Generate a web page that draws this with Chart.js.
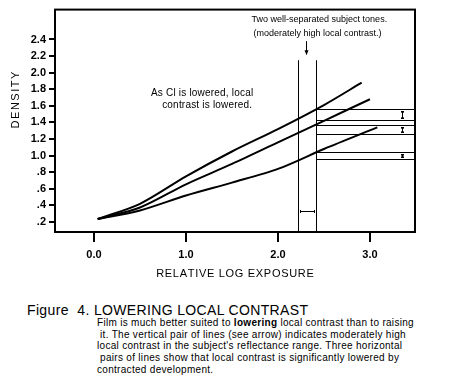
<!DOCTYPE html>
<html><head><meta charset="utf-8">
<script src="https://cdn.jsdelivr.net/npm/chart.js@4.4.0/dist/chart.umd.min.js"></script>
<style>
html,body{margin:0;padding:0;background:#fff;}
#wrap{position:relative;width:460px;height:390px;overflow:hidden;background:#fff;}
canvas{display:block;}
#fig{position:absolute;left:27px;top:302px;font:14px/16px "Liberation Sans",Arial,sans-serif;letter-spacing:0.35px;color:#000;white-space:nowrap;}
#cap{position:absolute;left:97px;top:317px;font:10px/11.7px "Liberation Sans",Arial,sans-serif;letter-spacing:0.3px;color:#000;white-space:nowrap;}
</style></head><body>
<div id="wrap">
<canvas id="c" width="460" height="290" style="width:460px;height:290px"></canvas>
<div id="fig">Figure&nbsp;&nbsp;4.&nbsp;LOWERING LOCAL CONTRAST</div>
<div id="cap">Film is much better suited to <b>lowering</b> local contrast than to raising<br>&nbsp;it. The vertical pair of lines (see arrow) indicates moderately high<br>local contrast in the subject's reflectance range. Three horizontal<br>&nbsp;pairs of lines show that local contrast is significantly lowered by<br>contracted development.</div>
</div>
<script>
// ---- data ----
const xTicks = [0, 1, 2, 3];
const xTickLabels = ['0.0', '1.0', '2.0', '3.0'];
const yTicks = [0.2, 0.4, 0.6, 0.8, 1.0, 1.2, 1.4, 1.6, 1.8, 2.0, 2.2, 2.4];
const yTickLabels = ['.2', '.4', '.6', '.8', '1.0', '1.2', '1.4', '1.6', '1.8', '2.0', '2.2', '2.4'];

const highX = [0.04, 0.5, 1.0, 1.5, 2.0, 2.5, 2.91];
const highY = [0.236, 0.42, 0.75, 1.05, 1.32, 1.61, 1.88];
const midX  = [0.04, 0.5, 1.0, 1.5, 2.0, 2.5, 3.0];
const midY  = [0.236, 0.375, 0.655, 0.90, 1.16, 1.42, 1.68];
const lowX  = [0.04, 0.5, 1.0, 1.5, 2.0, 2.5, 3.08];
const lowY  = [0.236, 0.34, 0.52, 0.675, 0.84, 1.08, 1.34];

const toneX = [2.22, 2.41];           // vertical pair of lines
const toneTop = 2.15;
const densityLevels = [1.562, 1.43, 1.37, 1.262, 1.05, 0.954]; // horizontal pairs
const pairArrowX = 3.345;

const xMin = -0.424, xMax = 3.49, yMin = 0.08, yMax = 2.76;
const FONT = '"Liberation Sans", Arial, Helvetica, sans-serif';

function pts(xs, ys){ return xs.map((x,i)=>({x, y: ys[i]})); }
function curve(xs, ys){
  return {data: pts(xs, ys), showLine: true, borderColor: '#000', borderWidth: 2,
    pointRadius: 0, fill: false, tension: 0.3};
}

function arrowHead(ctx, x, y, dx, dy, len, hw){
  const bx = x - dx*len, by = y - dy*len;
  ctx.beginPath();
  ctx.moveTo(x, y);
  ctx.lineTo(bx - dy*hw, by + dx*hw);
  ctx.lineTo(bx + dy*hw, by - dx*hw);
  ctx.closePath();
  ctx.fill();
}

// draws text centered on (0,0) along the current x direction with extra spacing
function spacedText(ctx, str, spacing){
  const widths = [...str].map(ch => ctx.measureText(ch).width);
  const total = widths.reduce((a,b)=>a+b,0) + spacing*(str.length-1);
  let x = -total/2;
  ctx.textAlign = 'left';
  [...str].forEach((ch,i) => { ctx.fillText(ch, x, 0); x += widths[i] + spacing; });
}

const decor = {
  id: 'decor',
  afterDatasetsDraw(chart){
    const ctx = chart.ctx, ca = chart.chartArea;
    const xs = chart.scales.x, ys = chart.scales.y;
    const X = v => xs.getPixelForValue(v), Y = v => ys.getPixelForValue(v);
    ctx.save();
    ctx.strokeStyle = '#000'; ctx.fillStyle = '#000';
    // frame
    ctx.lineWidth = 2;
    ctx.strokeRect(ca.left, ca.top, ca.right - ca.left, ca.bottom - ca.top);
    // vertical pair
    ctx.lineWidth = 1;
    toneX.forEach(v => {
      const px = Math.round(X(v)) + 0.5;
      ctx.beginPath(); ctx.moveTo(px, Y(toneTop)); ctx.lineTo(px, ca.bottom); ctx.stroke();
    });
    // horizontal pairs
    const hx0 = Math.round(X(toneX[1])) + 0.5;
    densityLevels.forEach(v => {
      const py = Math.round(Y(v)) + 0.5;
      ctx.beginPath(); ctx.moveTo(hx0, py); ctx.lineTo(ca.right, py); ctx.stroke();
    });
    // double arrows between horizontal pairs
    const ax = Math.round(X(pairArrowX)) + 0.5;
    for (let i = 0; i < densityLevels.length; i += 2) {
      const y1 = Math.round(Y(densityLevels[i])) + 2;
      const y2 = Math.round(Y(densityLevels[i+1])) - 1;
      ctx.beginPath(); ctx.moveTo(ax, y1 + 1); ctx.lineTo(ax, y2 - 1); ctx.stroke();
      ctx.beginPath(); ctx.moveTo(ax - 1.5, y1 + 0.5); ctx.lineTo(ax + 1.5, y1 + 0.5); ctx.stroke();
      ctx.beginPath(); ctx.moveTo(ax - 1.5, y2 - 0.5); ctx.lineTo(ax + 1.5, y2 - 0.5); ctx.stroke();
      arrowHead(ctx, ax, y1, 0, -1, 2, 1.5);
      arrowHead(ctx, ax, y2, 0, 1, 2, 1.5);
    }
    // horizontal double arrow between vertical lines
    const hy = Math.round(Y(0.335)) + 0.5;
    const hxa = Math.round(X(toneX[0])) + 2.5, hxb = Math.round(X(toneX[1])) - 1.5;
    ctx.beginPath(); ctx.moveTo(hxa, hy); ctx.lineTo(hxb, hy); ctx.stroke();
    ctx.beginPath(); ctx.moveTo(hxa, hy - 1.5); ctx.lineTo(hxa, hy + 1.5); ctx.stroke();
    ctx.beginPath(); ctx.moveTo(hxb, hy - 1.5); ctx.lineTo(hxb, hy + 1.5); ctx.stroke();
    // down arrow
    const dx = Math.round(X(2.30)) + 0.5;
    ctx.beginPath(); ctx.moveTo(dx, Y(2.38)); ctx.lineTo(dx, Y(2.25)); ctx.stroke();
    arrowHead(ctx, dx, Y(2.21), 0, 1, 5, 2);
    // annotation texts
    ctx.textAlign = 'center'; ctx.textBaseline = 'middle';
    ctx.font = '9px ' + FONT;
    ctx.fillText('Two well-separated subject tones.', X(2.45), Y(2.64));
    ctx.fillText('(moderately high local contrast.)', X(2.43), Y(2.47));
    ctx.font = '10px ' + FONT;
    ctx.save(); ctx.translate(X(1.175), Y(1.75)); spacedText(ctx, 'As Cl is lowered, local', 0.2); ctx.restore();
    ctx.save(); ctx.translate(X(1.23), Y(1.61)); spacedText(ctx, 'contrast is lowered.', 0.2); ctx.restore();
    // axis titles
    ctx.font = '11px ' + FONT;
    ctx.save(); ctx.translate((ca.left + ca.right)/2, 274); spacedText(ctx, 'RELATIVE LOG EXPOSURE', 0.7); ctx.restore();
    ctx.save(); ctx.translate(16, Y(1.67)); ctx.rotate(-Math.PI/2); spacedText(ctx, 'DENSITY', 1.5); ctx.restore();
    ctx.restore();
  }
};

new Chart(document.getElementById('c'), {
  type: 'scatter',
  data: { datasets: [curve(highX, highY), curve(midX, midY), curve(lowX, lowY)] },
  options: {
    responsive: false, animation: false, devicePixelRatio: 1,
    layout: { padding: { left: 0, right: 45, top: 8, bottom: 0 } },
    plugins: { legend: { display: false }, tooltip: { enabled: false } },
    scales: {
      x: {
        type: 'linear', min: xMin, max: xMax,
        afterBuildTicks: s => { s.ticks = xTicks.map(v => ({ value: v })); },
        afterFit: s => { s.height = 58; },
        ticks: { callback: v => xTickLabels[xTicks.indexOf(v)], color: '#000', padding: 6,
          font: { family: FONT, size: 11, weight: 'bold' }, maxRotation: 0, autoSkip: false },
        grid: { drawOnChartArea: false, color: '#000', lineWidth: 2, tickLength: 10 },
        border: { display: false }
      },
      y: {
        type: 'linear', min: yMin, max: yMax,
        afterBuildTicks: s => { s.ticks = yTicks.map(v => ({ value: v })); },
        afterFit: s => { s.width = 55; },
        ticks: { callback: v => yTickLabels[yTicks.findIndex(t => Math.abs(t - v) < 1e-6)], color: '#000', padding: 3,
          font: { family: FONT, size: 11, weight: 'bold' }, autoSkip: false },
        grid: { drawOnChartArea: false, color: '#000', lineWidth: 2, tickLength: 6 },
        border: { display: false }
      }
    }
  },
  plugins: [decor]
});
</script>
</body></html>
